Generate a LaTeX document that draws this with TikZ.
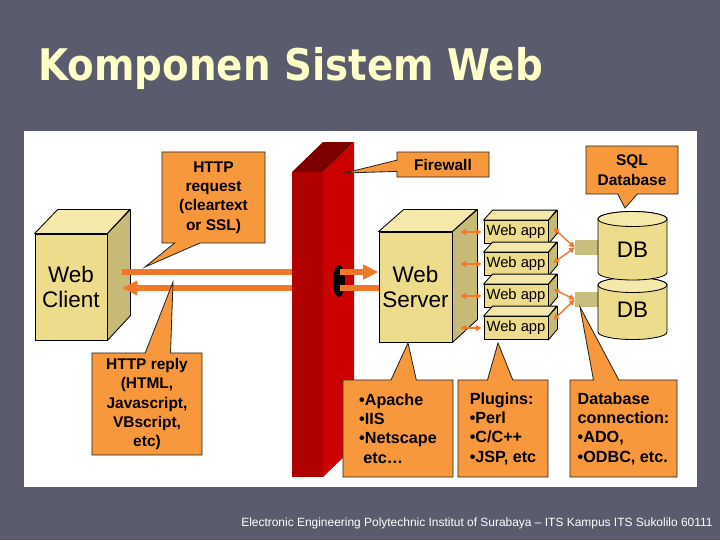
\documentclass[tikz,border=0pt]{standalone}
\usepackage{fontspec}
\setmainfont{Liberation Sans}
\newfontfamily\titlefont[FakeStretch=0.89]{DejaVu Sans}
\usetikzlibrary{positioning}
\usetikzlibrary{calc}
\usetikzlibrary{arrows.meta}
\usetikzlibrary{shapes.geometric}
\usetikzlibrary{shapes.callouts}

\definecolor{slate}{RGB}{90,92,110}
\definecolor{cream}{RGB}{255,255,200}
\definecolor{boxfront}{RGB}{236,220,140}
\definecolor{boxtop}{RGB}{244,232,170}
\definecolor{boxside}{RGB}{198,186,118}
\definecolor{stubtan}{RGB}{200,190,125}
\definecolor{noteorange}{RGB}{248,152,60}
\definecolor{flowline}{RGB}{240,120,40}
\definecolor{fwfront}{RGB}{176,0,0}
\definecolor{fwside}{RGB}{204,0,0}
\definecolor{fwtop}{RGB}{125,0,0}

\begin{document}
\begin{tikzpicture}[
    x=0.025cm, y=-0.025cm,
    cubefront/.style={draw=black, line width=0.6pt, fill=boxfront, inner sep=0pt, align=center},
    cubetop/.style={draw=black, line width=0.6pt, fill=boxtop, line join=round},
    cubeside/.style={draw=black, line width=0.6pt, fill=boxside, line join=round},
    cylbody/.style={draw=black, line width=0.6pt, fill=boxfront},
    stub/.style={fill=stubtan, inner sep=0pt},
    hole/.style={ellipse, fill=black, inner sep=0pt, minimum width=0.3cm, minimum height=0.8cm},
    note/.style={rectangle callout, draw=black!85, fill=noteorange, line width=0.6pt,
        font=\bfseries\fontsize{11}{13.8}\selectfont, align=center, inner sep=2pt},
    listnote/.style={note, align=left, font=\bfseries\fontsize{11.5}{13.8}\selectfont},
    flow/.style={draw=flowline, line width=3.6pt},
    link/.style={draw=flowline, line width=1pt,
        {Triangle[length=4pt,width=4pt]}-{Triangle[length=4pt,width=4pt]}},
    >={Triangle[length=11pt,width=10pt]}
]
    % slide
    \fill[slate] (0,0) rectangle (720,540);
    \fill[white] (24,131) rectangle (697,487);

    \node[anchor=base west, inner sep=0pt, text=cream,
        font=\titlefont\bfseries\fontsize{31}{36}\selectfont] (title) at (38,80) {Komponen Sistem Web};
    \node[anchor=base west, inner sep=0pt, text=white,
        font=\fontsize{8.5}{10}\selectfont] (footer) at (241,526)
        {Electronic Engineering Polytechnic Institut of Surabaya -- ITS Kampus ITS Sukolilo 60111};

    % web client
    \node[cubefront, minimum width=1.8cm, minimum height=2.65cm,
        font=\fontsize{16}{18}\selectfont] (client) at (71,287) {Web\\Client};
    \draw[cubetop] (client.north west) -- ++(23,-24) -- ++(72,0) -- (client.north east) -- cycle;
    \draw[cubeside] (client.north east) -- ++(23,-24) -- ++(0,106) -- (client.south east) -- cycle;

    % web server
    \node[cubefront, minimum width=1.825cm, minimum height=2.75cm,
        font=\fontsize{16}{18}\selectfont] (server) at (415.5,287) {Web\\Server};
    \draw[cubetop] (server.north west) -- ++(25,-22) -- ++(73,0) -- (server.north east) -- cycle;
    \draw[cubeside] (server.north east) -- ++(25,-22) -- ++(0,110) -- (server.south east) -- cycle;

    % traffic behind the firewall
    \coordinate (req) at (122,272);
    \coordinate (rep) at (122,288);
    \coordinate (reqhole) at (340,272);
    \coordinate (rephole) at (340,288);
    \draw[flow] (req) -- (reqhole);
    \draw[flow, <-] (rep) -- (rephole);

    % firewall
    \fill[fwfront] (292,172) rectangle (323,477);
    \fill[fwside] (323,172) -- (354,142) -- (354,447) -- (323,477) -- cycle;
    \fill[fwtop] (292,172) -- (323,142) -- (354,142) -- (323,172) -- cycle;
    \node[hole] (hole) at (339,281) {};

    \draw[flow, ->] (reqhole) -- (server.west |- reqhole);
    \draw[flow] (server.west |- rephole) -- (rephole);

    % web apps
    \foreach \i/\yy in {1/232,2/264,3/296,4/328} {
        \node[cubefront, minimum width=1.6cm, minimum height=0.575cm,
            font=\fontsize{10.5}{12}\selectfont] (app\i) at (516,\yy) {Web app};
        \draw[cubetop] (app\i.north west) -- ++(9,-10) -- ++(64,0) -- (app\i.north east) -- cycle;
        \draw[cubeside] (app\i.north east) -- ++(9,-10) -- ++(0,23) -- (app\i.south east) -- cycle;
        \draw[link] ($(server.east |- app\i.west)+(8,0)$) -- ($(app\i.west)+(-2,0)$);
    }

    % database
    \node[stub, minimum width=0.575cm, minimum height=0.375cm] (stub1) at (586.5,247.5) {};
    \node[stub, minimum width=0.575cm, minimum height=0.375cm] (stub2) at (586.5,299.5) {};

    \draw[cylbody] (598,285) -- (598,332)
        arc[start angle=180, end angle=360, x radius=0.8625cm, y radius=0.1875cm]
        -- (667,285) arc[start angle=0, end angle=180, x radius=0.8625cm, y radius=0.1875cm] -- cycle;
    \draw[cubetop] (632.5,285) ellipse[x radius=0.8625cm, y radius=0.1875cm];
    \draw[cylbody] (598,219) -- (598,272.5)
        arc[start angle=180, end angle=360, x radius=0.8625cm, y radius=0.1875cm]
        -- (667,219) arc[start angle=0, end angle=180, x radius=0.8625cm, y radius=0.1875cm] -- cycle;
    \draw[cubetop] (632.5,219) ellipse[x radius=0.8625cm, y radius=0.1875cm];
    \node[font=\fontsize{16}{18}\selectfont] (db1) at (632.5,250) {DB};
    \node[font=\fontsize{16}{18}\selectfont] (db2) at (632.5,310) {DB};

    \draw[link] ($(app1.east)+(5,-4)$) -- (stub1.west);
    \draw[link] ($(app2.east)+(5,-1)$) -- (stub1.west);
    \draw[link] ($(app3.east)+(5,-7)$) -- (stub2.west);
    \draw[link] ($(app4.east)+(5,-8)$) -- (stub2.west);

    % notes
    \node[note, minimum width=2.575cm, minimum height=2.275cm, callout pointer width=18pt,
        callout absolute pointer={(145,267)}] (reqnote) at (213.5,197.5)
        {HTTP\\request\\(cleartext\\or SSL)};
    \node[note, minimum width=2.3cm, minimum height=0.625cm, callout pointer width=8pt,
        callout absolute pointer={(345,173)}] (fwnote) at (443,164.5) {Firewall};
    \node[note, minimum width=2.3cm, minimum height=1.2cm, callout pointer width=14pt,
        callout absolute pointer={(625,208)}] (sqlnote) at (632,170) {SQL\\Database};
    \node[note, minimum width=2.75cm, minimum height=2.55cm, callout pointer width=18pt,
        callout absolute pointer={(173,282)}] (repnote) at (147,404)
        {HTTP reply\\(HTML,\\Javascript,\\VBscript,\\etc)};
    \node[listnote, minimum width=2.75cm, minimum height=2.425cm, callout pointer width=18pt,
        callout absolute pointer={(408,343)}] (srvnote) at (398,428.5)
        {•Apache\\•IIS\\•Netscape\\\hspace{3pt}etc…};
    \node[listnote, minimum width=2.25cm, minimum height=2.425cm, callout pointer width=18pt,
        callout absolute pointer={(498,343)}] (plugnote) at (503,428.5)
        {Plugins:\\•Perl\\•C/C++\\•JSP, etc};
    \node[listnote, minimum width=2.675cm, minimum height=2.425cm, callout pointer width=18pt,
        callout absolute pointer={(580,307)}] (connnote) at (623.5,428.5)
        {Database\\connection:\\•ADO,\\•ODBC, etc.};
\end{tikzpicture}
\end{document}
